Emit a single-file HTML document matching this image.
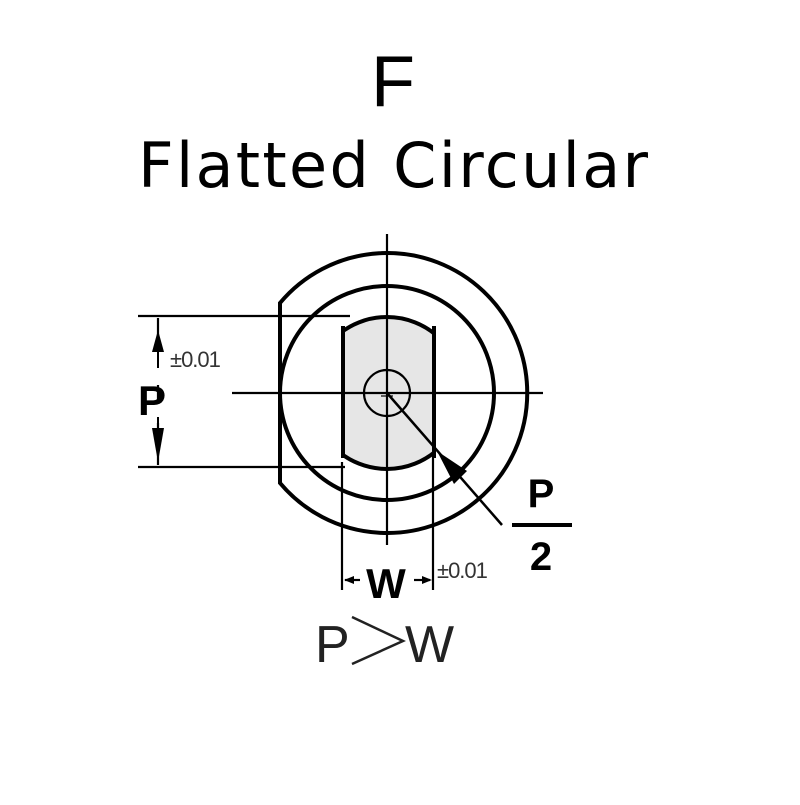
<!DOCTYPE html>
<html><head><style>body{margin:0;background:#fff}</style></head><body>
<svg width="800" height="800" viewBox="0 0 800 800" xmlns="http://www.w3.org/2000/svg">
<rect width="800" height="800" fill="#fff"/>
<text x="393" y="106" font-family="Liberation Sans, sans-serif" font-size="72" text-anchor="middle">F</text>
<text x="138" y="187" font-family="DejaVu Sans, sans-serif" font-size="62" textLength="510" lengthAdjust="spacing">Flatted Circular</text>
<defs><clipPath id="c"><rect x="342" y="300" width="92" height="180"/></clipPath></defs>
<circle cx="387" cy="393" r="76" fill="#e6e6e6" stroke="#000" stroke-width="4" clip-path="url(#c)"/>
<line x1="343" y1="326" x2="343" y2="458" stroke="#000" stroke-width="4"/>
<line x1="434" y1="326" x2="434" y2="458" stroke="#000" stroke-width="4"/>
<g fill="none" stroke="#000" stroke-width="4">
<path d="M280 303 A140 140 0 1 1 280 483 Z"/>
<circle cx="387" cy="393" r="107"/>
</g>
<g stroke="#000" stroke-width="2.2" fill="none">
<line x1="387" y1="234" x2="387" y2="545"/>
<line x1="232" y1="393" x2="543" y2="393"/>
<circle cx="387" cy="393" r="23"/>
<line x1="381" y1="396" x2="393" y2="396" stroke-width="1.2"/>
<line x1="387" y1="390" x2="387" y2="402" stroke-width="1.2"/>
<line x1="138" y1="316" x2="350" y2="316"/>
<line x1="138" y1="467" x2="345" y2="467"/>
<line x1="158" y1="318" x2="158" y2="465"/>
<line x1="342" y1="462" x2="342" y2="590"/>
<line x1="433" y1="455" x2="433" y2="590"/>
<line x1="387" y1="393" x2="502" y2="525" stroke-width="2.5"/>
<line x1="345" y1="580" x2="360" y2="580"/>
<line x1="414" y1="580" x2="430" y2="580"/>
</g>
<rect x="156" y="345" width="4" height="40" fill="#fff"/>
<rect x="156" y="403" width="4" height="20" fill="#fff"/>
<line x1="158" y1="350" x2="158" y2="368" stroke="#000" stroke-width="2"/>
<line x1="158" y1="417" x2="158" y2="432" stroke="#000" stroke-width="2"/>
<polygon points="158,330 152,352 164,352" fill="#000"/>
<polygon points="158,462 152,428 164,428" fill="#000"/>
<polygon points="437,451 467,471 454,484" fill="#000"/>
<polygon points="344,580 354,576 354,584" fill="#000"/>
<polygon points="432,580 422,576 422,584" fill="#000"/>
<text x="138" y="415" font-family="Liberation Sans, sans-serif" font-weight="bold" font-size="42">P</text>
<text x="170" y="367" font-family="Liberation Sans, sans-serif" font-size="22" fill="#333" letter-spacing="-1">±0.01</text>
<text x="386" y="598" font-family="Liberation Sans, sans-serif" font-weight="bold" font-size="42" text-anchor="middle">W</text>
<text x="437" y="578" font-family="Liberation Sans, sans-serif" font-size="22" fill="#333" letter-spacing="-1">±0.01</text>
<text x="541" y="507" font-family="Liberation Sans, sans-serif" font-weight="bold" font-size="40" text-anchor="middle">P</text>
<line x1="512" y1="525" x2="572" y2="525" stroke="#000" stroke-width="4"/>
<text x="541" y="570" font-family="Liberation Sans, sans-serif" font-weight="bold" font-size="40" text-anchor="middle">2</text>
<text x="315" y="662" font-family="Liberation Sans, sans-serif" font-size="52" fill="#222">P</text>
<polyline points="352,617 403,641 352,664" fill="none" stroke="#222" stroke-width="2.5"/>
<text x="405" y="662" font-family="Liberation Sans, sans-serif" font-size="52" fill="#222">W</text>
</svg>
</body></html>
